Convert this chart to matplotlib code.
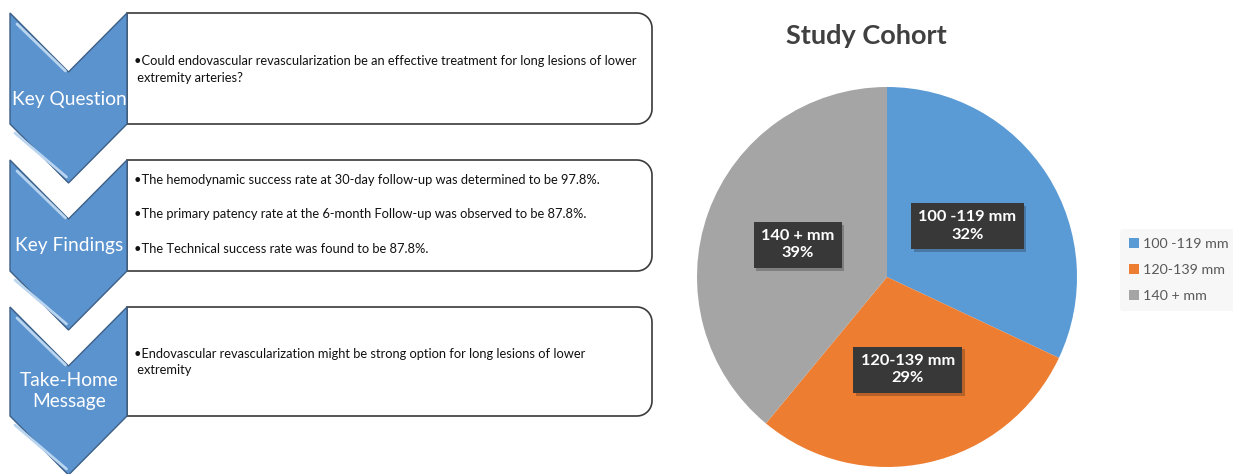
import numpy as np
import matplotlib
matplotlib.use("Agg")
import matplotlib.pyplot as plt
import matplotlib.patheffects as pe
from matplotlib.patches import Polygon

plt.rcParams["font.family"] = ["Lato", "DejaVu Sans"]

# data
stage_titles = ["Key Question", "Key Findings", "Take-Home\nMessage"]
stage_lines = [
    ["•Could endovascular revascularization be an effective treatment for long lesions of lower",
     " extremity arteries?"],
    ["•The hemodynamic success rate at 30-day follow-up was determined to be 97.8%.",
     "•The primary patency rate at the 6-month Follow-up was observed to be 87.8%.",
     "•The Technical success rate was found to be 87.8%."],
    ["•Endovascular revascularization might be strong option for long lesions of lower",
     " extremity"],
]
cohort_labels = ["100 -119 mm", "120-139 mm", "140 + mm"]
cohort_pct = [32, 29, 39]
cohort_colors = ["#5B9BD5", "#ED7D31", "#A5A5A5"]

W, H = 1233, 474
fig = plt.figure(figsize=(W / 100, H / 100), dpi=100)

# left panel, drawn in pixel coords
ax = fig.add_axes([0, 0, 1, 1])
ax.set_xlim(0, W)
ax.set_ylim(H, 0)
ax.axis("off")

tops = [13, 160, 307]
bots = [124, 271, 416]
line_y = [[61, 78], [180, 214, 249], [354, 370]]
x0, x1, depth = 10, 127, 59
xm = (x0 + x1) / 2
bx1, rad = 652, 15


def box_path(top, bot):
    # rectangle with rounded right-hand corners
    pts = [(x1, top), (bx1 - rad, top)]
    a = np.linspace(np.pi / 2, 0, 12)
    pts += [(bx1 - rad + rad * np.cos(t), top + rad - rad * np.sin(t)) for t in a]
    a = np.linspace(0, -np.pi / 2, 12)
    pts += [(bx1 - rad + rad * np.cos(t), bot - rad - rad * np.sin(t)) for t in a]
    pts += [(x1, bot)]
    return pts


for i in range(3):
    top, bot = tops[i], bots[i]
    ax.add_patch(Polygon(box_path(top, bot), closed=True, fc="white",
                         ec="#3a3a3a", lw=1.2, zorder=1))
    chev = [(x0, top), (xm, top + depth), (x1, top), (x1, bot),
            (xm, bot + depth), (x0, bot)]
    ax.add_patch(Polygon(chev, closed=True, fc="#5B93CE", ec="#3d5f86",
                         lw=1.0, zorder=2))
    # glossy highlight strokes
    ax.plot([x0 + 7, xm - 3], [top + 11, top + depth - 1], color="#b9d5f0",
            lw=2, solid_capstyle="round", zorder=3)
    ax.plot([x0 + 5, xm - 2], [bot + 9, bot + depth - 6], color="#b9d5f0",
            lw=2, solid_capstyle="round", zorder=3)
    title_y = {0: 99, 1: 245, 2: 391}[i]
    ax.text(xm + 1, title_y, stage_titles[i], color="white", fontsize=13.8,
            ha="center", va="center", linespacing=1.25, zorder=4)
    for txt, y in zip(stage_lines[i], line_y[i]):
        ax.text(134, y, txt, fontsize=9.3, color="#111111", ha="left",
                va="center", zorder=4)

ax.text(866, 36, "Study Cohort", fontsize=19.5, fontweight="bold",
        color="#404040", ha="center", va="center")

# pie chart
cx, cy, r = 887, 277, 190
pax = fig.add_axes([(cx - r) / W, (H - cy - r) / H, 2 * r / W, 2 * r / H])
wedges, _ = pax.pie(cohort_pct, colors=cohort_colors, startangle=90,
                    counterclock=False, radius=1.0,
                    wedgeprops=dict(linewidth=0))
pax.set_xlim(-1, 1)
pax.set_ylim(-1, 1)
pax.set_aspect("auto")
pax.axis("off")

for w, lab, p in zip(wedges, cohort_labels, cohort_pct):
    mid = np.deg2rad((w.theta1 + w.theta2) / 2)
    t = pax.text(0.5 * np.cos(mid), 0.5 * np.sin(mid), f"{lab}\n{p}%",
                 ha="center", va="center", color="white", fontsize=11.8,
                 fontweight="bold", linespacing=1.3,
                 bbox=dict(boxstyle="square,pad=0.45", fc="#383838", ec="none"))
    t.get_bbox_patch().set_path_effects(
        [pe.SimplePatchShadow(offset=(2, -2), alpha=0.25), pe.Normal()])

leg = fig.legend(wedges, cohort_labels, loc="center left",
                 bbox_to_anchor=(1113 / W, 1 - 270 / H), frameon=True,
                 fontsize=10.3, handlelength=0.7, handleheight=0.7,
                 handletextpad=0.3, labelspacing=1.0, borderpad=0.6)
leg.get_frame().set_facecolor("#f6f6f6")
leg.get_frame().set_edgecolor("none")
for t in leg.get_texts():
    t.set_color("#595959")

fig.savefig("out.png", dpi=100, facecolor="white")
